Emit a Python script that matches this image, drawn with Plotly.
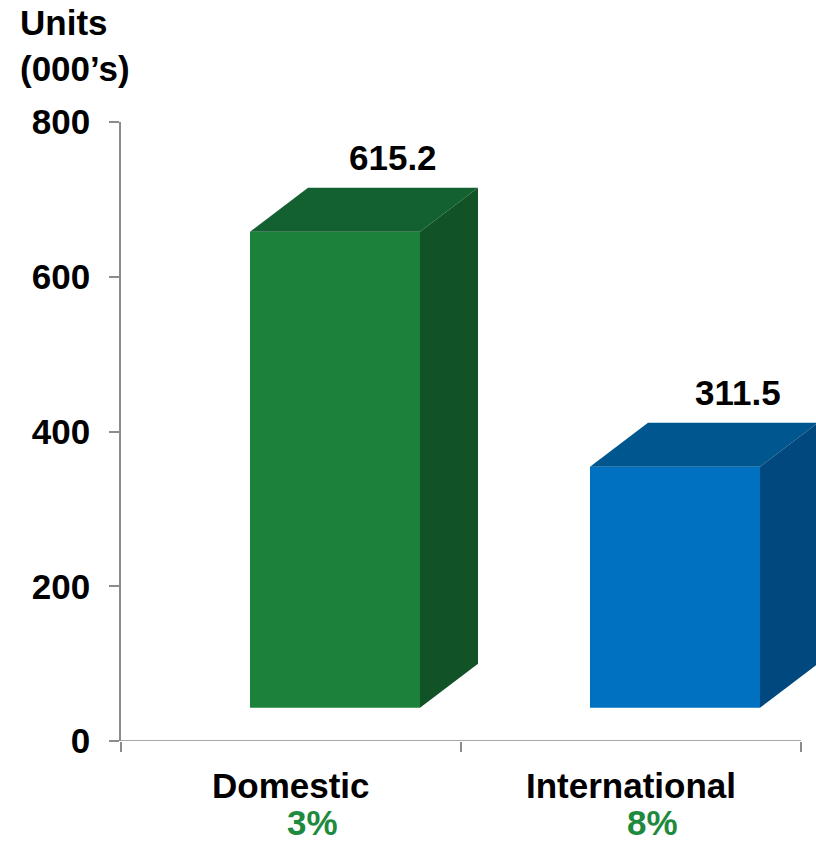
import plotly.graph_objects as go

# ---- data ----
categories = ["Domestic", "International"]
values = [615.2, 311.5]
value_labels = ["615.2", "311.5"]
growth_labels = ["3%", "8%"]
y_tick_vals = [0, 200, 400, 600, 800]

# ---- style ----
front_colors = ["#1C823B", "#0071C1"]
top_colors = ["#136131", "#00578F"]
side_colors = ["#115226", "#00487D"]
growth_color = "#1E8A3E"
axis_color = "#8C8C8C"
FONT = "Liberation Sans, Arial, sans-serif"
FS = 35

# 3D geometry (in axis units)
FL, FR = -0.1206, 0.3794      # front face left/right offset from category centre
DX, DY = 0.1706, 56.9         # depth offset
BASE = 43.0                   # front face baseline lift

fig = go.Figure()
for i, v in enumerate(values):
    x0, x1 = i + FL, i + FR
    y0, y1 = BASE, BASE + v
    # front
    fig.add_trace(go.Scatter(x=[x0, x1, x1, x0, x0], y=[y0, y0, y1, y1, y0],
                             fill="toself", fillcolor=front_colors[i], mode="lines",
                             line=dict(width=0, color=front_colors[i]), hoverinfo="skip"))
    # top
    fig.add_trace(go.Scatter(x=[x0, x1, x1 + DX, x0 + DX, x0], y=[y1, y1, y1 + DY, y1 + DY, y1],
                             fill="toself", fillcolor=top_colors[i], mode="lines",
                             line=dict(width=0, color=top_colors[i]), hoverinfo="skip"))
    # side
    fig.add_trace(go.Scatter(x=[x1, x1 + DX, x1 + DX, x1, x1], y=[y0, y0 + DY, y1 + DY, y1, y0],
                             fill="toself", fillcolor=side_colors[i], mode="lines",
                             line=dict(width=0, color=side_colors[i]), hoverinfo="skip"))
    # value label
    fig.add_annotation(x=i + (FL + FR) / 2 + DX + 0.015 * i, y=y1 + DY, yshift=30, text=value_labels[i],
                       showarrow=False, xanchor="center", yanchor="middle",
                       font=dict(family=FONT, size=FS, color="black", weight="bold"))
    # category label
    fig.add_annotation(x=i, y=-0.0711, yref="paper", text=categories[i], showarrow=False,
                       xanchor="center", yanchor="middle", borderpad=0, height=34,
                       font=dict(family=FONT, size=FS, color="black", weight="bold"))
    fig.add_annotation(x=i + 0.062, y=-0.1309, yref="paper", text=growth_labels[i], showarrow=False,
                       xanchor="center", yanchor="middle", borderpad=0, height=32,
                       font=dict(family=FONT, size=FS, color=growth_color, weight="bold"))

# axis title
fig.add_annotation(x=-0.148, y=1.1228, xref="paper", yref="paper", text="Units<br>(000\u2019s)",
                   showarrow=False, xanchor="left", yanchor="middle", align="left",
                   font=dict(family=FONT, size=FS, color="black", weight="bold"))

# x-axis baseline
fig.add_shape(type="line", x0=-0.5, x1=1.5, y0=0, y1=0, xref="x", yref="y",
              line=dict(color=axis_color, width=1.5))

fig.update_layout(
    width=816, height=843,
    margin=dict(l=121, r=0, t=122, b=102),
    plot_bgcolor="white", paper_bgcolor="white",
    showlegend=False, hovermode=False,
    xaxis=dict(range=[-0.5, 1.5 + 15 / 340], showgrid=False, zeroline=False, showline=False,
               tickvals=[-0.5, 0.5, 1.5], ticktext=["", "", ""], ticks="outside",
               ticklen=10, tickcolor=axis_color, tickwidth=1.5, fixedrange=True),
    yaxis=dict(range=[0, 800], showgrid=False, zeroline=False, showline=True,
               linecolor=axis_color, linewidth=1.5,
               tickvals=y_tick_vals, ticks="outside", ticklen=10, tickcolor=axis_color,
               tickwidth=1.5, ticklabelstandoff=12,
               tickfont=dict(family=FONT, size=FS, color="black", weight="bold"),
               fixedrange=True),
)

fig.write_html("out.html")
